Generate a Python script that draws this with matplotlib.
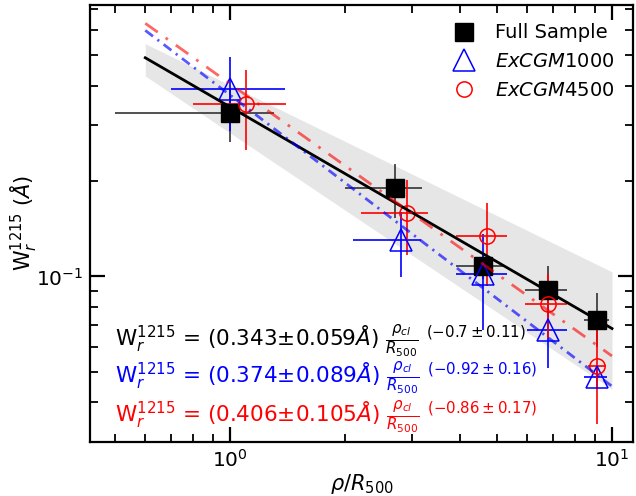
import numpy as np
import matplotlib
matplotlib.use("Agg")
import matplotlib.pyplot as plt

x_full = [1.00, 2.70, 4.60, 6.81, 9.12]
y_full = [0.329, 0.190, 0.1075, 0.0908, 0.0729]
x_full_lo = [0.50, 2.00, 3.91, 5.92, 8.45]
x_full_hi = [1.30, 3.19, 5.25, 7.61, 9.80]
y_full_lo = [0.266, 0.153, 0.098, 0.078, 0.060]
y_full_hi = [0.392, 0.226, 0.118, 0.1075, 0.0885]

x_ex1 = [1.00, 2.80, 4.60, 6.81, 9.12]
y_ex1 = [0.392, 0.130, 0.1017, 0.0678, 0.0480]
x_ex1_lo = [0.70, 2.10, 3.91, 6.00, 8.45]
x_ex1_hi = [1.39, 3.17, 5.30, 7.61, 9.70]
y_ex1_lo = [0.288, 0.0993, 0.0678, 0.0513, 0.044]
y_ex1_hi = [0.493, 0.160, 0.136, 0.080, 0.052]

x_ex45 = [1.10, 2.90, 4.70, 6.81, 9.12]
y_ex45 = [0.351, 0.159, 0.1345, 0.0817, 0.0522]
x_ex45_lo = [0.80, 2.20, 3.91, 5.92, 8.67]
x_ex45_hi = [1.40, 3.30, 5.30, 7.61, 9.63]
y_ex45_lo = [0.250, 0.1166, 0.093, 0.064, 0.0343]
y_ex45_hi = [0.449, 0.202, 0.171, 0.1015, 0.072]

# power-law fits: W = A * (rho/R500)^slope
fit_amp = [0.343, 0.374, 0.406]
fit_amp_err = [0.059, 0.089, 0.105]
fit_slope = [-0.7, -0.92, -0.86]
fit_slope_err = [0.11, 0.16, 0.17]


def err(v, lo, hi):
    v, lo, hi = map(np.asarray, (v, lo, hi))
    return np.vstack([v - lo, hi - v])


fig = plt.figure(figsize=(6.36, 4.96), dpi=100)
ax = fig.add_axes([0.1415, 0.109, 0.8538, 0.881])
ax.set_xscale("log")
ax.set_yscale("log")

xf = np.logspace(np.log10(0.6), 1, 200)
a, da, s, ds = fit_amp[0], fit_amp_err[0], fit_slope[0], fit_slope_err[0]
ax.fill_between(xf, (a - da) * xf ** (s - ds), (a + da) * xf ** (s + ds),
                color="0.9", lw=0, zorder=0)

# error bars
ax.errorbar(x_full, y_full, xerr=err(x_full, x_full_lo, x_full_hi),
            yerr=err(y_full, y_full_lo, y_full_hi), fmt="none",
            ecolor="0.2", elinewidth=1.2, zorder=2)
ax.errorbar(x_ex1, y_ex1, xerr=err(x_ex1, x_ex1_lo, x_ex1_hi),
            yerr=err(y_ex1, y_ex1_lo, y_ex1_hi), fmt="none",
            ecolor="blue", elinewidth=1.2, zorder=2)
ax.errorbar(x_ex45, y_ex45, xerr=err(x_ex45, x_ex45_lo, x_ex45_hi),
            yerr=err(y_ex45, y_ex45_lo, y_ex45_hi), fmt="none",
            ecolor="red", elinewidth=1.2, zorder=2)

# markers
ax.plot(x_full, y_full, "s", ms=13, color="black", ls="none",
        label="Full Sample", zorder=3)
ax.plot(x_ex1, y_ex1, "^", ms=16, mfc="none", mec="blue", mew=1.1, ls="none",
        label=r"$ExCGM$1000", zorder=3)
ax.plot(x_ex45, y_ex45, "o", ms=11, mfc="none", mec="red", mew=1.1, ls="none",
        label=r"$ExCGM$4500", zorder=3)

# fits
ax.plot(xf, fit_amp[0] * xf ** fit_slope[0], color="black", lw=2, zorder=4)
ax.plot(xf, fit_amp[1] * xf ** fit_slope[1], color="blue", alpha=0.65, lw=2,
        dashes=(3.5, 2, 0.8, 2), zorder=4)
ax.plot(xf, fit_amp[2] * xf ** fit_slope[2], color="red", alpha=0.6, lw=2,
        dashes=(5.5, 3.5, 1, 3.5), zorder=4)

ax.set_xlim(0.43, 11.35)
ax.set_ylim(0.03, 0.72)
ax.set_xlabel(r"$\rho/R_{500}$", fontsize=15, labelpad=1)
ax.set_ylabel(r"W$_r^{1215}$ ($\AA$)", fontsize=15, labelpad=-2)

for sp in ax.spines.values():
    sp.set_linewidth(1.6)
ax.tick_params(which="both", direction="in", top=True, right=True, labelsize=14.5)
ax.tick_params(which="major", length=10.5, width=1.6, pad=5)
ax.tick_params(which="minor", length=6, width=1.3)

ax.legend(loc="upper right", frameon=False, fontsize=14, handletextpad=0.6,
          borderaxespad=0.55, labelspacing=0.5)

cols = ["black", "blue", "red"]
ypos = [0.22, 0.135, 0.046]
for i in range(3):
    txt = (r"W$_r^{1215}$ = (%.3f$\pm$%.3f$\AA$) $\frac{\rho_{cl}}{R_{500}}$ "
           r"$^{(%s \pm %s)}$" % (fit_amp[i], fit_amp_err[i],
                                  ("%g" % fit_slope[i]), ("%g" % fit_slope_err[i])))
    ax.text(0.046, ypos[i], txt, transform=ax.transAxes, color=cols[i],
            fontsize=15.5, va="baseline", ha="left")

fig.savefig("out.png", dpi=100)
